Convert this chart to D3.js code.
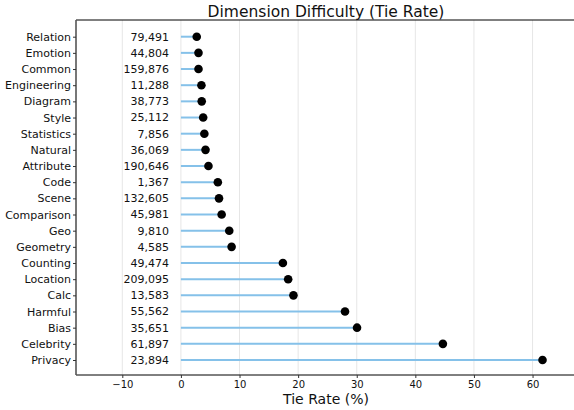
<!DOCTYPE html>
<html><head><meta charset="utf-8">
<script src="https://cdn.jsdelivr.net/npm/d3@7"></script>
<style>body{margin:0;background:#fff}svg{display:block;font-family:"DejaVu Sans",sans-serif}</style>
</head><body><svg id="c" width="574" height="410"></svg>
<script>
const categories = ["Relation","Emotion","Common","Engineering","Diagram","Style","Statistics","Natural","Attribute","Code","Scene","Comparison","Geo","Geometry","Counting","Location","Calc","Harmful","Bias","Celebrity","Privacy"];
const tieRates = [2.7,3.0,3.0,3.5,3.55,3.8,4.0,4.2,4.7,6.3,6.5,6.95,8.25,8.65,17.4,18.3,19.2,28.0,30.05,44.7,61.7];
const counts = ["79,491","44,804","159,876","11,288","38,773","25,112","7,856","36,069","190,646","1,367","132,605","45,981","9,810","4,585","49,474","209,095","13,583","55,562","35,651","61,897","23,894"];
const xTicks = [-10,0,10,20,30,40,50,60];

const svg = d3.select("#c");
const L = 76, R = 573, T = 20, B = 375;
const x = d3.scaleLinear().domain([-17.9, 66.9]).range([L, R]);
const y = d3.scalePoint().domain(categories).range([36.7, 360]);

// grid
svg.append("g").selectAll("line").data(xTicks).join("line")
  .attr("x1", d => x(d)).attr("x2", d => x(d)).attr("y1", T).attr("y2", B)
  .attr("stroke", "#e6e6e6").attr("stroke-width", 1);

// stems
svg.append("g").selectAll("line").data(categories).join("line")
  .attr("x1", x(0)).attr("x2", (d,i) => x(tieRates[i]))
  .attr("y1", d => y(d)).attr("y2", d => y(d))
  .attr("stroke", "#85c1e9").attr("stroke-width", 2);

// dots
svg.append("g").selectAll("circle").data(categories).join("circle")
  .attr("cx", (d,i) => x(tieRates[i])).attr("cy", d => y(d)).attr("r", 4.3)
  .attr("fill", "#000");

// count labels
svg.append("g").selectAll("text").data(categories).join("text")
  .attr("x", 169).attr("y", d => y(d)).attr("dy", "0.35em")
  .attr("text-anchor", "end").attr("font-size", 11).attr("fill", "#111")
  .text((d,i) => counts[i]);

// spines
svg.append("line").attr("x1", L).attr("x2", R+1).attr("y1", T).attr("y2", T).attr("stroke", "#000").attr("stroke-width", 1);
svg.append("line").attr("x1", L).attr("x2", R+1).attr("y1", B).attr("y2", B).attr("stroke", "#000").attr("stroke-width", 1);
svg.append("line").attr("x1", L).attr("x2", L).attr("y1", T).attr("y2", B).attr("stroke", "#555").attr("stroke-width", 1.6);

// y axis
const yAxis = svg.append("g").attr("transform", `translate(${L},0)`)
  .call(d3.axisLeft(y).tickSize(3).tickSizeOuter(0).tickPadding(2));
yAxis.select(".domain").remove();
yAxis.selectAll(".tick line").attr("stroke", "#333");
yAxis.selectAll("text").attr("font-size", 11).attr("font-family", "DejaVu Sans").attr("fill", "#111");

// x axis
const xAxis = svg.append("g").attr("transform", `translate(0,${B})`)
  .call(d3.axisBottom(x).tickValues(xTicks).tickSize(3).tickPadding(3).tickFormat(d => d < 0 ? "\u2212" + Math.abs(d) : d));
xAxis.select(".domain").remove();
xAxis.selectAll(".tick line").attr("stroke", "#333");
xAxis.selectAll("text").attr("font-size", 10).attr("font-family", "DejaVu Sans").attr("fill", "#111");

// title & label
svg.append("text").attr("x", 326).attr("y", 17).attr("text-anchor", "middle")
  .attr("font-size", 15.5).attr("fill", "#111").text("Dimension Difficulty (Tie Rate)");
svg.append("text").attr("x", 326).attr("y", 404).attr("text-anchor", "middle")
  .attr("font-size", 14).attr("fill", "#111").text("Tie Rate (%)");
</script></body></html>
